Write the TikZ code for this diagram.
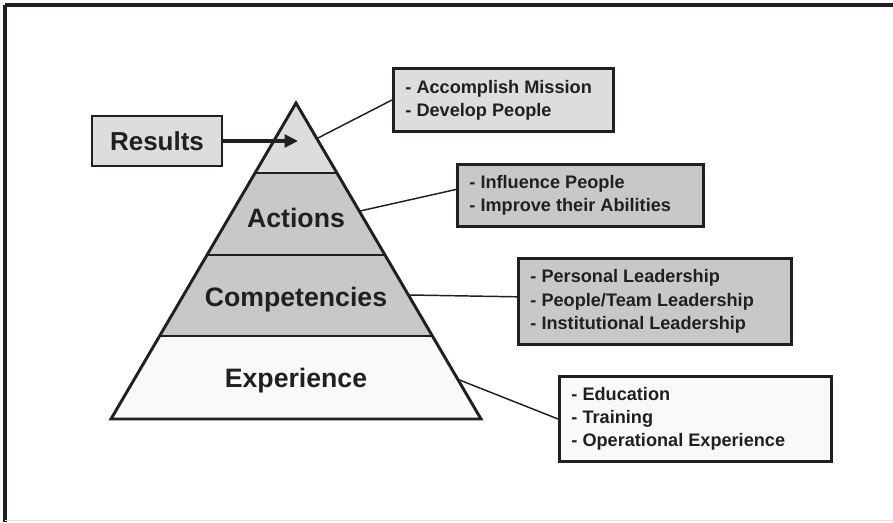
\documentclass[tikz,border=0pt]{standalone}
\usepackage{fontspec}
\setmainfont{Liberation Sans}
\usetikzlibrary{arrows.meta}
\definecolor{inkc}{RGB}{35,31,32}
\definecolor{lightfill}{RGB}{221,221,221}
\definecolor{midfill}{RGB}{200,200,200}
\definecolor{palefill}{RGB}{249,249,249}

\begin{document}
\begin{tikzpicture}[x=0.75pt,y=0.75pt,yscale=-1,xscale=1,
	infobox/.style={draw=inkc,line width=2.2pt,anchor=north west,align=flush left,inner xsep=9pt,inner ysep=0pt,text=inkc,font=\fontsize{13.6}{17.4}\selectfont\bfseries},
	tierlabel/.style={anchor=base,inner sep=0.75pt,text=inkc,font=\fontsize{20}{24}\selectfont\bfseries},
	link/.style={draw=inkc,line width=1.1pt}]
				\useasboundingbox (0,0) rectangle (893,522);
				
				%Frame
				\draw [color=inkc, line width=3pt] (893,5) -- (5,5) ;
				\draw [color=inkc, line width=2.3pt] (5,5) -- (5,522) ;
				\draw [color=black!12, line width=1pt] (5,520.5) -- (893,520.5) ;
				
				%Pyramid corners
				\coordinate (apex) at (296,103);
				\coordinate (l1) at (255,173);
				\coordinate (r1) at (337,173);
				\coordinate (l2) at (207,255);
				\coordinate (r2) at (385,255);
				\coordinate (l3) at (160,336);
				\coordinate (r3) at (432,336);
				\coordinate (bl) at (111,419);
				\coordinate (br) at (481,419);
				
				%Shape: Pyramid tiers
				\fill [lightfill] (apex) -- (r1) -- (l1) -- cycle ;
				\fill [midfill] (l1) -- (r1) -- (r3) -- (l3) -- cycle ;
				\fill [palefill] (l3) -- (r3) -- (br) -- (bl) -- cycle ;
				\draw [color=inkc, line width=2.2pt] (apex) -- (br) -- (bl) -- cycle ;
				\draw [color=inkc, line width=2.2pt] (l1) -- (r1) (l2) -- (r2) (l3) -- (r3) ;
				
				% Text Node
				\node [tierlabel] (actions) at (296,227) {Actions};
				% Text Node
				\node [tierlabel] (competencies) at (296,306) {Competencies};
				% Text Node
				\node [tierlabel] (experience) at (296,387) {Experience};
				
				%Results box and arrow
				\node [draw=inkc, line width=2.2pt, fill=lightfill, text=inkc, minimum width=97.5pt, minimum height=37.5pt, inner sep=0pt, font=\fontsize{19.5}{23}\selectfont\bfseries] (results) at (157,141) {Results};
				\coordinate (tip) at (298,141);
				\draw [color=inkc, line width=2.6pt, -{Triangle[length=10pt,width=9.5pt]}] (results.east) -- (tip) ;
				
				%Side boxes
				\node [infobox, fill=lightfill, text width=147pt, minimum height=47.25pt] (mission) at (392,67) {- Accomplish Mission\\- Develop People};
				\node [infobox, fill=midfill, text width=166.5pt, minimum height=46.5pt] (influence) at (456,163) {- Influence People\\- Improve their Abilities};
				\node [infobox, fill=midfill, text width=186.75pt, minimum height=64.5pt] (leadership) at (517,257) {- Personal Leadership\\- People/Team Leadership\\- Institutional Leadership};
				\node [infobox, fill=palefill, text width=186pt, minimum height=63.75pt] (education) at (558,375) {- Education\\- Training\\- Operational Experience};
				
				%Connector ends on the pyramid
				\coordinate (c1) at (318,138);
				\coordinate (c2) at (360,211);
				\coordinate (c3) at (410,295);
				\coordinate (c4) at (457,379);
				
				%Straight Lines
				\draw [link] (c1) -- (mission.west) ;
				\draw [link] (c2) -- ([yshift=-4.5pt]influence.west) ;
				\draw [link] (c3) -- ([yshift=-3.5pt]leadership.west) ;
				\draw [link] (c4) -- (education.west) ;
				
\end{tikzpicture}
\end{document}
